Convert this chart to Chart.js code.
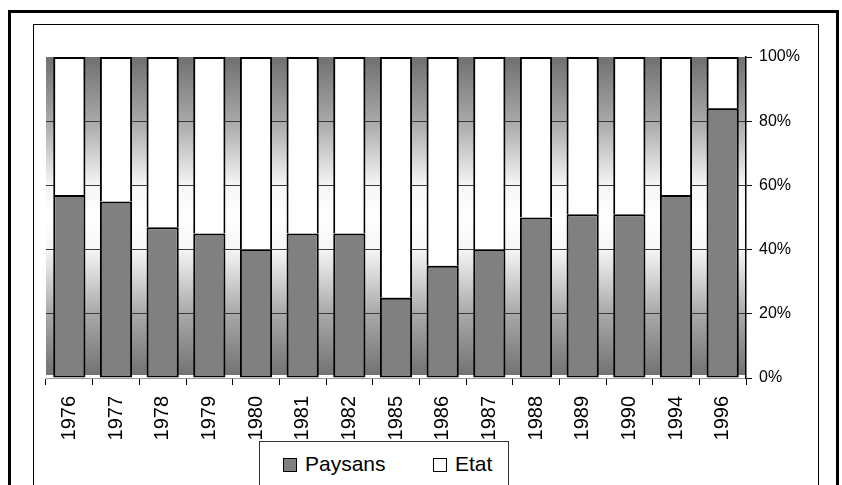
<!DOCTYPE html>
<html lang="fr">
<head>
    <meta charset="UTF-8">
    <title>Paysans / Etat</title>
    <style>
        body {
            margin: 0;
            background: #fff;
            font-family: 'Liberation Sans', Arial, sans-serif;
            overflow: hidden;
        }
        .frame-outer {
            position: absolute;
            left: 8px;
            top: 10px;
            width: 831px;
            height: 520px;
            border: 3px solid #000;
            box-sizing: border-box;
        }
        .frame-inner {
            position: absolute;
            left: 33px;
            top: 24px;
            width: 786px;
            height: 520px;
            border: 1px solid #000;
            box-sizing: border-box;
        }
        #wrap {
            position: absolute;
            left: 0;
            top: 0;
            width: 842px;
            height: 485px;
        }
        .legend {
            position: absolute;
            left: 259px;
            top: 441px;
            width: 250px;
            height: 60px;
            border: 1px solid #333;
            box-sizing: border-box;
            background: #fff;
            font-size: 21px;
            color: #000;
        }
        .legend span {
            position: absolute;
            top: 9px;
            line-height: 26px;
        }
        .legend i {
            position: absolute;
            top: 16px;
            width: 12px;
            height: 12px;
            border: 1px solid #000;
        }
    </style>
</head>
<body>
<div class="frame-outer"></div>
<div class="frame-inner"></div>
<div id="wrap"><canvas id="chart"></canvas></div>
<div class="legend">
    <i style="left:23px;background:#808080"></i><span style="left:45px">Paysans</span>
    <i style="left:173px;background:#fff"></i><span style="left:195px">Etat</span>
</div>

<script src="https://cdn.jsdelivr.net/npm/chart.js"></script>
<script>
    const years = ['1976', '1977', '1978', '1979', '1980', '1981', '1982', '1985', '1986', '1987', '1988', '1989', '1990', '1994', '1996'];
    const paysans = [57, 55, 47, 45, 40, 45, 45, 25, 35, 40, 50, 51, 51, 57, 84];
    const etat = [43, 45, 53, 55, 60, 55, 55, 75, 65, 60, 50, 49, 49, 43, 16];
    const yTicks = [0, 20, 40, 60, 80, 100];

    // grey -> white -> grey band behind the bars
    const plotBackground = {
        id: 'plotBackground',
        beforeDraw(chart) {
            const { ctx, chartArea: a } = chart;
            const g = ctx.createLinearGradient(0, a.top, 0, a.bottom);
            g.addColorStop(0, '#707070');
            g.addColorStop(0.2, '#a8a8a8');
            g.addColorStop(0.4, '#f6f6f6');
            g.addColorStop(0.5, '#ffffff');
            g.addColorStop(0.6, '#f6f6f6');
            g.addColorStop(0.8, '#a8a8a8');
            g.addColorStop(1, '#707070');
            ctx.save();
            ctx.fillStyle = g;
            ctx.fillRect(a.left, a.top, a.right - a.left, a.bottom - a.top - 3);
            ctx.restore();
        }
    };

    const font = "'Liberation Sans', Arial, sans-serif";

    new Chart(document.getElementById('chart'), {
        type: 'bar',
        data: {
            labels: years,
            datasets: [{
                label: 'Paysans',
                data: paysans,
                backgroundColor: '#808080',
                borderColor: '#000',
                borderWidth: 2,
                borderSkipped: false,
                barPercentage: 0.69,
                categoryPercentage: 1
            }, {
                label: 'Etat',
                data: etat,
                backgroundColor: '#ffffff',
                borderColor: '#000',
                borderWidth: 2,
                borderSkipped: 'start',
                barPercentage: 0.69,
                categoryPercentage: 1
            }]
        },
        options: {
            responsive: true,
            maintainAspectRatio: false,
            animation: false,
            layout: {
                padding: { left: 46, top: 57, right: 0, bottom: 0 }
            },
            plugins: {
                legend: { display: false },
                tooltip: { enabled: false }
            },
            scales: {
                x: {
                    stacked: true,
                    afterFit(scale) { scale.height = 107; },
                    grid: {
                        drawOnChartArea: false,
                        drawTicks: true,
                        tickLength: 7,
                        tickColor: '#000',
                        offset: true
                    },
                    border: { color: '#999', width: 1 },
                    ticks: {
                        minRotation: 90,
                        maxRotation: 90,
                        padding: 11,
                        color: '#000',
                        font: { family: font, size: 20 }
                    }
                },
                y: {
                    stacked: true,
                    position: 'right',
                    min: 0,
                    max: 100,
                    afterFit(scale) { scale.width = 96; },
                    afterBuildTicks(scale) {
                        scale.ticks = yTicks.map(v => ({ value: v }));
                    },
                    grid: {
                        color: c => (c.tick && (c.tick.value === 0 || c.tick.value === 100)) ? 'rgba(0,0,0,0)' : '#3a3a3a',
                        tickColor: '#000',
                        tickLength: 6,
                        lineWidth: 1
                    },
                    border: { color: '#000', width: 1.5 },
                    ticks: {
                        padding: 7,
                        color: '#000',
                        font: { family: font, size: 16 },
                        callback: v => v + '%'
                    }
                }
            }
        },
        plugins: [plotBackground]
    });
</script>
</body>
</html>
